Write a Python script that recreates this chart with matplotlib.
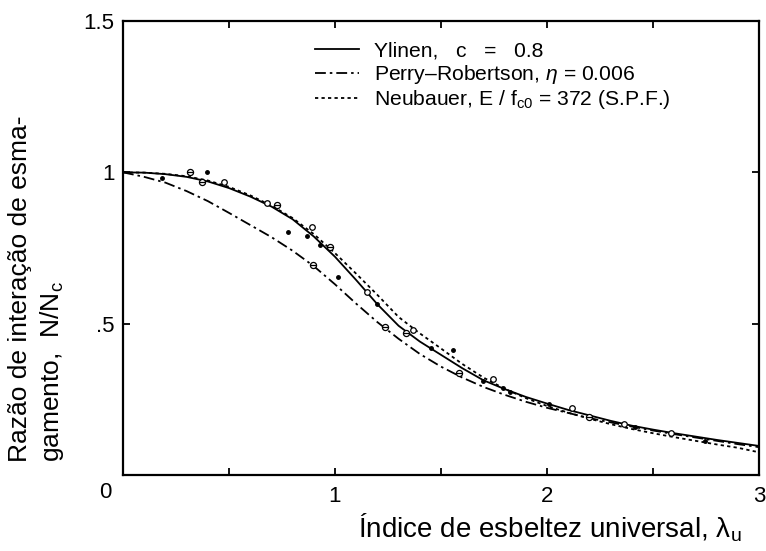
import matplotlib
matplotlib.use("Agg")
import matplotlib.pyplot as plt

plt.rcParams["font.family"] = ["Liberation Sans", "DejaVu Sans"]
plt.rcParams["mathtext.fontset"] = "custom"
plt.rcParams["mathtext.rm"] = "Liberation Sans"
plt.rcParams["mathtext.it"] = "Liberation Sans:italic"

# curves, x = universal slenderness
lam = [0.0, 0.1, 0.2, 0.3, 0.4, 0.5, 0.6, 0.7, 0.8, 0.9, 1.0,
       1.1, 1.2, 1.3, 1.4, 1.5, 1.6, 1.7, 1.8, 1.9, 2.0,
       2.1, 2.2, 2.3, 2.4, 2.5, 2.6, 2.7, 2.8, 2.9, 3.0]
ylinen = [1.000, 0.999, 0.994, 0.985, 0.970, 0.948, 0.920, 0.887, 0.845, 0.788, 0.721,
          0.644, 0.564, 0.493, 0.441, 0.397, 0.353, 0.313, 0.284, 0.258, 0.236,
          0.215, 0.197, 0.179, 0.163, 0.150, 0.138, 0.127, 0.116, 0.106, 0.096]
perry = [1.000, 0.985, 0.966, 0.938, 0.905, 0.866, 0.826, 0.786, 0.741, 0.690, 0.630,
         0.566, 0.505, 0.450, 0.400, 0.358, 0.322, 0.291, 0.265, 0.242, 0.222,
         0.205, 0.188, 0.174, 0.160, 0.147, 0.135, 0.124, 0.113, 0.102, 0.092]
neubauer = [1.000, 0.999, 0.995, 0.987, 0.973, 0.952, 0.924, 0.890, 0.849, 0.796, 0.733,
            0.665, 0.595, 0.522, 0.468, 0.418, 0.367, 0.322, 0.285, 0.254, 0.228,
            0.206, 0.186, 0.168, 0.152, 0.138, 0.125, 0.113, 0.101, 0.090, 0.075]

# test points
open_x = [0.478, 0.681, 0.890, 1.149, 1.370, 1.747, 2.116, 2.365, 2.583]
open_y = [0.969, 0.900, 0.820, 0.606, 0.478, 0.317, 0.220, 0.167, 0.140]
theta_x = [0.316, 0.371, 0.725, 0.976, 0.895, 1.236, 1.335, 1.587, 2.200]
theta_y = [1.002, 0.969, 0.892, 0.752, 0.694, 0.490, 0.470, 0.338, 0.190]
dot_x = [0.183, 0.395, 0.780, 0.870, 0.930, 1.016, 1.200, 1.451, 1.558,
         1.697, 1.794, 1.825, 2.009, 2.415, 2.745]
dot_y = [0.980, 1.002, 0.804, 0.790, 0.760, 0.653, 0.564, 0.418, 0.413,
         0.311, 0.286, 0.275, 0.235, 0.157, 0.112]

x_ticks = [0, 0.5, 1, 1.5, 2, 2.5, 3]
x_ticklabels = ["", "", "1", "", "2", "", "3"]
y_ticks = [0, 0.5, 1, 1.5]
y_ticklabels = ["", ".5", "1", "1.5"]

W, H = 766, 551
fig = plt.figure(figsize=(W / 100, H / 100), dpi=100)
ax = fig.add_axes([123 / W, 1 - 475 / H, 636 / W, 454 / H])

ax.plot(lam, ylinen, color="black", lw=1.3, label="Ylinen,   c   =   0.8")
ax.plot(lam, perry, color="black", lw=1.3, dashes=(6, 2.2, 1.4, 2.2),
        label="Perry\u2013Robertson, $\\eta$ = 0.006")
ax.plot(lam, neubauer, color="black", lw=1.3, dashes=(1.8, 1.8),
        label="Neubauer, E / f$_{\\mathrm{c0}}$ = 372 (S.P.F.)")

ax.plot(open_x, open_y, "o", ms=4.0, mfc="white", mec="black", mew=0.9, zorder=4)
ax.plot(theta_x, theta_y, "o", ms=4.4, mfc="white", mec="black", mew=0.9, zorder=4)
ax.plot(theta_x, theta_y, "_", ms=4.4, color="black", mew=0.9, zorder=5)
ax.plot(dot_x, dot_y, "o", ms=2.5, color="black", zorder=4)

ax.set_xlim(0, 3)
ax.set_ylim(0, 1.5)
ax.set_xticks(x_ticks)
ax.set_xticklabels(x_ticklabels)
ax.set_yticks(y_ticks)
ax.set_yticklabels(y_ticklabels)
ax.tick_params(direction="in", length=5, width=1.3, labelsize=16,
               top=True, right=True)
ax.tick_params(axis="x", pad=8)
ax.tick_params(axis="y", pad=6)
for s in ax.spines.values():
    s.set_linewidth(1.6)

ax.legend(loc="upper left", bbox_to_anchor=(0.302, 0.955), frameon=False,
          fontsize=15.2, handlelength=2.1, handletextpad=0.7, labelspacing=0.12,
          borderpad=0, borderaxespad=0)

fig.text(105 / W, 1 - 493 / H, "0", fontsize=16, ha="center", va="center")
fig.text(8 / W, 1 - 462 / H, "Razão de interação de esma-\ngamento,  N/N$_\\mathrm{c}$",
         rotation=90, fontsize=19, ha="left", va="bottom",
         multialignment="left", linespacing=1.3)
fig.text(550 / W, 1 - 537 / H, "Índice de esbeltez universal, λ$_\\mathrm{u}$",
         fontsize=20, ha="center", va="baseline")

fig.savefig("out.png", dpi=100)
